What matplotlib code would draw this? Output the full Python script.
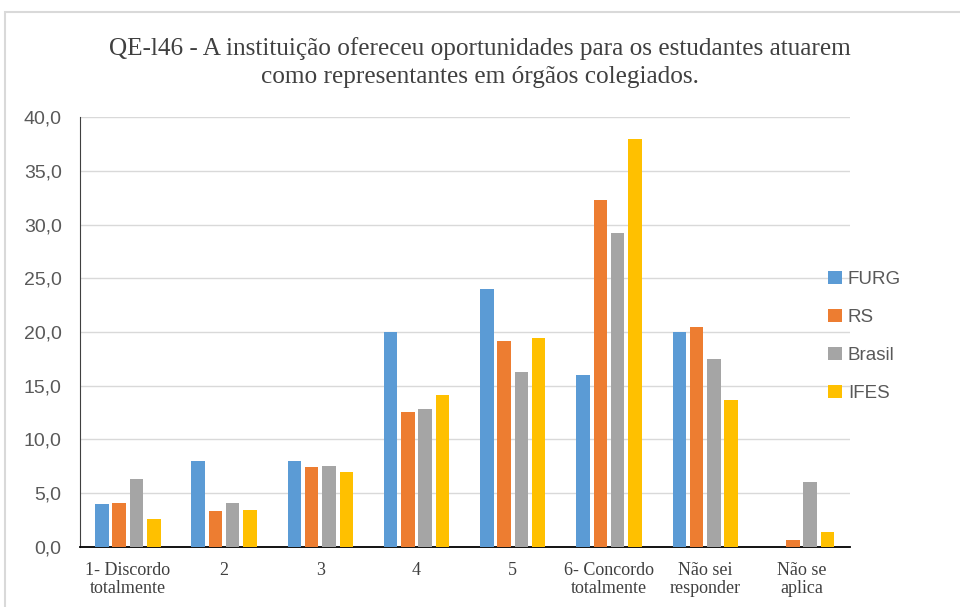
import matplotlib
matplotlib.use('Agg')
import matplotlib.pyplot as plt
import numpy as np
from matplotlib.patches import Rectangle

categories = ['1- Discordo\ntotalmente', '2', '3', '4', '5', '6- Concordo\ntotalmente',
              'Não sei\nresponder', 'Não se\naplica']
furg = [4.0, 8.0, 8.0, 20.0, 24.0, 16.0, 20.0, 0.0]
rs = [4.1, 3.3, 7.4, 12.6, 19.2, 32.3, 20.5, 0.6]
brasil = [6.3, 4.1, 7.5, 12.8, 16.3, 29.2, 17.5, 6.0]
ifes = [2.6, 3.4, 7.0, 14.1, 19.4, 38.0, 13.7, 1.4]

series = [('FURG', furg, '#5B9BD5'), ('RS', rs, '#ED7D31'),
          ('Brasil', brasil, '#A5A5A5'), ('IFES', ifes, '#FFC000')]

fig = plt.figure(figsize=(9.6, 6.07), dpi=100)
ax = fig.add_axes([0.083, 0.099, 0.802, 0.708])

# outer chart border
fig.patches.append(Rectangle((5 / 960, -0.1), 1.2, 1 - 12 / 607 + 0.1, transform=fig.transFigure,
                             fill=False, edgecolor='#D9D9D9', linewidth=1.5))

x = np.arange(len(categories))
step = 0.18
width = 0.14
for i, (name, vals, color) in enumerate(series):
    ax.bar(x + (i - 1.5) * step, vals, width=width, color=color, label=name, zorder=3)

ax.set_xlim(-0.5, len(categories) - 0.5)
ax.set_ylim(0, 40)
ax.set_yticks(np.arange(0, 41, 5))
ax.set_yticklabels([f'{v:.1f}'.replace('.', ',') for v in np.arange(0, 41, 5)],
                   fontsize=14, color='#595959', family='Liberation Sans')
ax.set_xticks(x)
ax.set_xticklabels(categories, fontsize=13, color='#404040', family='Liberation Serif',
                   linespacing=1.05)
ax.tick_params(length=0)
ax.tick_params(axis='y', pad=13)
ax.tick_params(axis='x', pad=11)
ax.grid(axis='y', color='#D9D9D9', linewidth=1, zorder=0)
for s in ['top', 'right']:
    ax.spines[s].set_visible(False)
ax.spines['left'].set_color('#404040')
ax.spines['bottom'].set_color('#000000')
ax.spines['bottom'].set_linewidth(1.3)

fig.text(0.5, 0.897, 'QE-l46 - A instituição ofereceu oportunidades para os estudantes atuarem\n'
                     'como representantes em órgãos colegiados.',
         ha='center', va='center', fontsize=18.2, family='Liberation Serif', color='#404040',
         linespacing=1.38)

leg = fig.legend(loc='center left', bbox_to_anchor=(0.845, 0.446), frameon=False,
                 handlelength=0.75, handleheight=0.75, handletextpad=0.3,
                 labelspacing=1.1, prop={'family': 'Liberation Sans', 'size': 13.5})
for t in leg.get_texts():
    t.set_color('#595959')

fig.savefig('out.png', dpi=100)
